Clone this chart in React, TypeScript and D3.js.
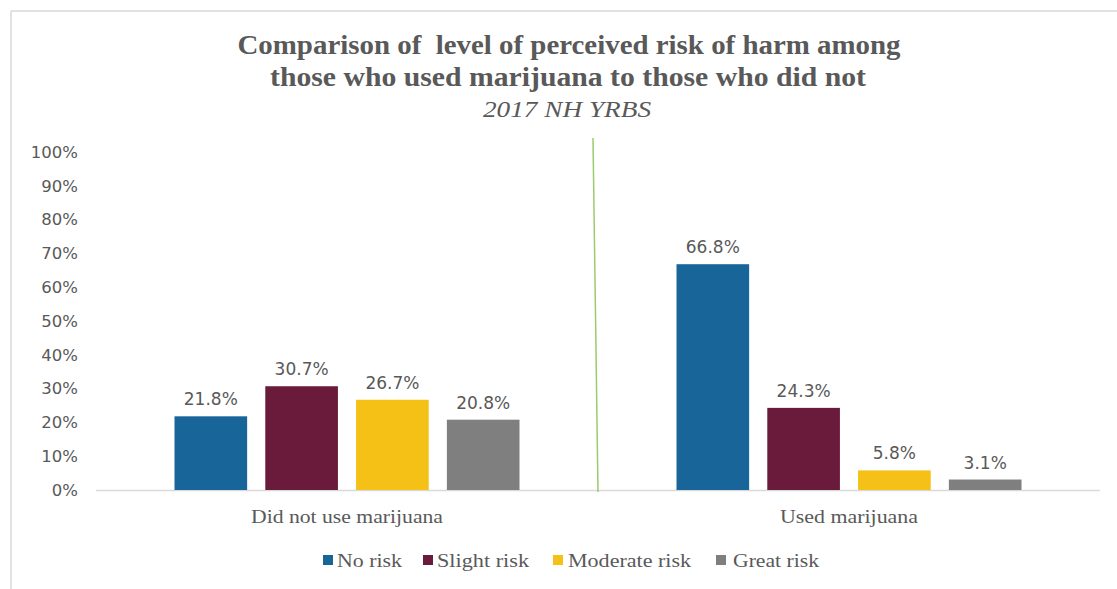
import React from "react";
import * as d3 from "d3";

const categories = ["Did not use marijuana", "Used marijuana"];
const seriesNames = ["No risk", "Slight risk", "Moderate risk", "Great risk"];
const noRisk = [21.8, 66.8];
const slightRisk = [30.7, 24.3];
const moderateRisk = [26.7, 5.8];
const greatRisk = [20.8, 3.1];
const seriesColors = ["#18659a", "#6a1a3a", "#f5c116", "#7f7f7f"];
const yTicks = [0, 10, 20, 30, 40, 50, 60, 70, 80, 90, 100];

const W = 1117;
const H = 589;
const plotLeft = 96;
const plotRight = 1100;
const plotTop = 152;
const plotBottom = 490;

export default function App() {
  const series = [noRisk, slightRisk, moderateRisk, greatRisk];
  const x0 = d3.scaleBand<string>().domain(categories).range([plotLeft, plotRight]).paddingInner(0).paddingOuter(0);
  const groupInner = 345;
  const x1 = d3
    .scaleBand<string>()
    .domain(seriesNames)
    .range([0, groupInner])
    .paddingInner(0.2)
    .paddingOuter(0);
  const y = d3.scaleLinear().domain([0, 100]).range([plotBottom, plotTop]);
  const textGray = "#595959";
  const serif = "'Liberation Serif', 'DejaVu Serif', serif";
  const sans = "'DejaVu Sans', Verdana, sans-serif";

  const legendX = [323, 423, 553, 716];
  const legendTextX = [337, 437, 568, 733];
  const legendTextLen = [65, 92, 123, 86];
  const catTextLen = [192, 138];

  return (
    <svg width={W} height={H} style={{ position: "absolute", left: 0, top: 0 }}>
      <rect x={0} y={0} width={W} height={H} fill="#ffffff" />
      <line x1={11} y1={11} x2={W} y2={11} stroke="#d9d9d9" strokeWidth={1.5} />
      <line x1={11} y1={11} x2={11} y2={H} stroke="#d9d9d9" strokeWidth={1.5} />

      <text x={569} y={54} textAnchor="middle" fontFamily={serif} fontWeight="bold" fontSize={27} fill={textGray} textLength={663} lengthAdjust="spacingAndGlyphs" style={{ whiteSpace: "pre" }}>
        {"Comparison of  level of perceived risk of harm among"}
      </text>
      <text x={568} y={86} textAnchor="middle" fontFamily={serif} fontWeight="bold" fontSize={27} fill={textGray} textLength={596} lengthAdjust="spacingAndGlyphs">
        those who used marijuana to those who did not
      </text>
      <text x={567} y={117} textAnchor="middle" fontFamily={serif} fontStyle="italic" fontSize={23} fill={textGray} textLength={168} lengthAdjust="spacingAndGlyphs">
        2017 NH YRBS
      </text>

      {yTicks.map((t) => (
        <text key={t} x={78} y={y(t)} dy="0.35em" textAnchor="end" fontFamily={sans} fontSize={16.5} fill={textGray}>
          {t}%
        </text>
      ))}

      <line x1={plotLeft} y1={plotBottom + 0.5} x2={plotRight} y2={plotBottom + 0.5} stroke="#d9d9d9" strokeWidth={1.5} />

      {categories.map((c, ci) => {
        const gx = (x0(c) as number) + (x0.bandwidth() - groupInner) / 2;
        return (
          <g key={c}>
            {series.map((vals, si) => {
              const bx = gx + (x1(seriesNames[si]) as number);
              const v = vals[ci];
              return (
                <g key={si}>
                  <rect x={bx} y={y(v)} width={x1.bandwidth()} height={plotBottom - y(v)} fill={seriesColors[si]} />
                  <text x={bx + x1.bandwidth() / 2} y={y(v) - 11} textAnchor="middle" fontFamily={sans} fontSize={17} fill={textGray}>
                    {v.toFixed(1)}%
                  </text>
                </g>
              );
            })}
            <text x={(x0(c) as number) + x0.bandwidth() / 2} y={523} textAnchor="middle" fontFamily={serif} fontSize={19} fill={textGray} textLength={catTextLen[ci]} lengthAdjust="spacingAndGlyphs">
              {c}
            </text>
          </g>
        );
      })}

      <line x1={593} y1={138} x2={598} y2={492} stroke="#9dca6e" strokeWidth={1.5} />

      {seriesNames.map((s, i) => (
        <g key={s}>
          <rect x={legendX[i]} y={555} width={10} height={10} fill={seriesColors[i]} />
          <text x={legendTextX[i]} y={567} fontFamily={serif} fontSize={19} fill={textGray} textLength={legendTextLen[i]} lengthAdjust="spacingAndGlyphs">
            {s}
          </text>
        </g>
      ))}
    </svg>
  );
}
